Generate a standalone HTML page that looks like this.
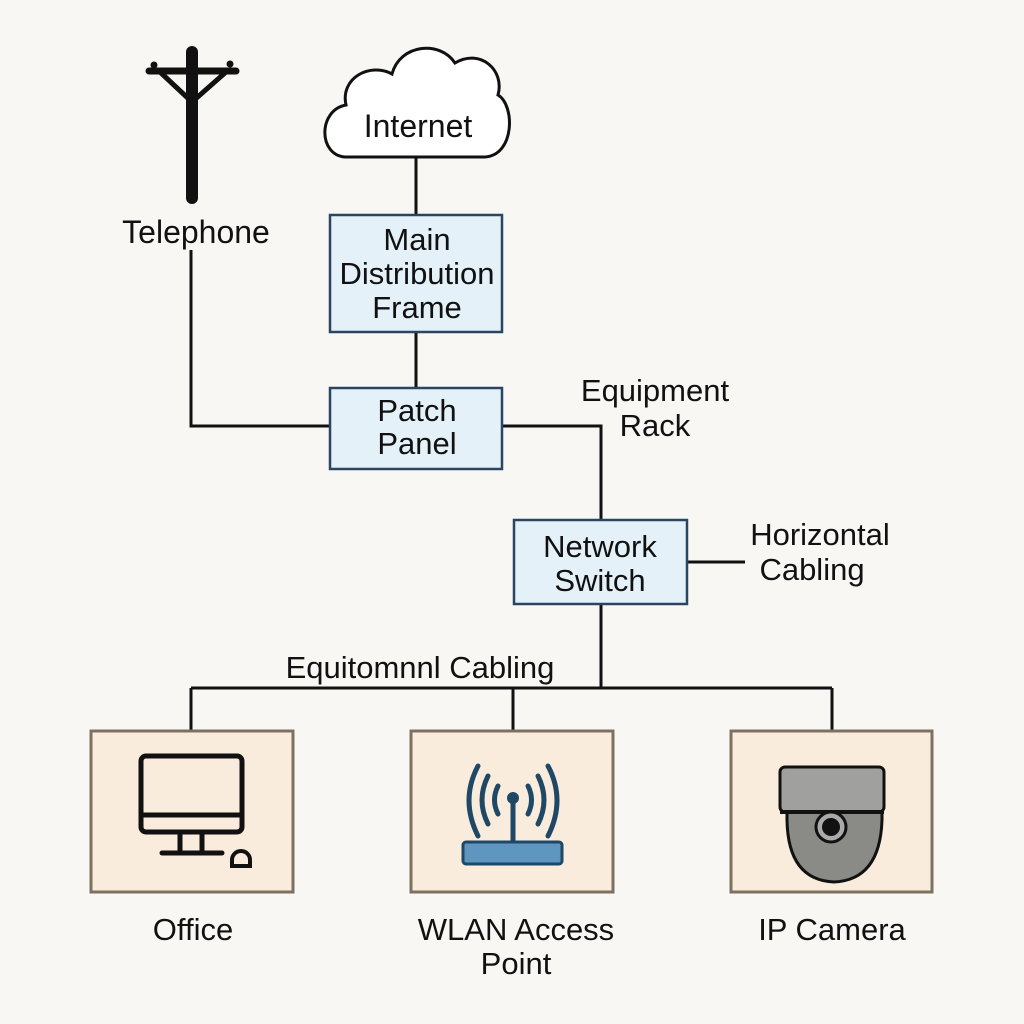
<!DOCTYPE html>
<html><head><style>
body{margin:0;background:#f8f7f4;}
svg{display:block;font-family:"Liberation Sans",sans-serif;}
</style></head><body>
<svg width="1024" height="1024" viewBox="0 0 1024 1024">
<rect width="1024" height="1024" fill="#f8f7f4"/>
<g stroke="#111" stroke-width="3" fill="none">
<path d="M416 156V215M416 332V388M191 250V426H330M502 426H601V520M687 562H745M601 604V688M191 688H832M191 688V730M513 688V730M832 688V730"/>
</g>
<!-- pole -->
<g stroke="#111" stroke-linecap="round">
<line x1="192" y1="52" x2="192" y2="198" stroke-width="12"/>
<line x1="149" y1="71" x2="236" y2="71" stroke-width="7"/>
<line x1="160" y1="72" x2="192" y2="102" stroke-width="5"/>
<line x1="226" y1="72" x2="192" y2="102" stroke-width="5"/>
<circle cx="154" cy="65" r="3" fill="#111"/>
<circle cx="230" cy="64" r="3" fill="#111"/>
</g>
<text x="196" y="243" font-size="32" text-anchor="middle" fill="#111">Telephone</text>
<!-- cloud -->
<path d="M345 157 C318 155 318 110 346 105 C340 78 370 62 392 74 C400 44 440 40 455 63 C480 48 505 70 498 95 C515 105 515 155 485 157 Z" fill="#fff" stroke="#111" stroke-width="3"/>
<text x="418" y="137" font-size="32" text-anchor="middle" fill="#111">Internet</text>
<g fill="#e4f1f9" stroke="#2a4561" stroke-width="2.5">
<rect x="330" y="215" width="172" height="117"/>
<rect x="330" y="388" width="172" height="81"/>
<rect x="514" y="520" width="173" height="84"/>
</g>
<g font-size="31" text-anchor="middle" fill="#111">
<text x="417" y="250">Main</text>
<text x="417" y="284">Distribution</text>
<text x="417" y="318">Frame</text>
<text x="417" y="421">Patch</text>
<text x="417" y="454">Panel</text>
<text x="600" y="557">Network</text>
<text x="600" y="591">Switch</text>
<text x="655" y="401">Equipment</text>
<text x="655" y="436">Rack</text>
<text x="820" y="545">Horizontal</text>
<text x="812" y="580">Cabling</text>
<text x="420" y="678">Equitomnnl Cabling</text>
<text x="193" y="940">Office</text>
<text x="516" y="940">WLAN Access</text>
<text x="516" y="974">Point</text>
<text x="832" y="940">IP Camera</text>
</g>
<g fill="#f9ecdc" stroke="#7d7260" stroke-width="3">
<rect x="91" y="731" width="202" height="161"/>
<rect x="411" y="731" width="202" height="161"/>
<rect x="731" y="731" width="201" height="161"/>
</g>
<!-- monitor -->
<g stroke="#111" stroke-width="5" fill="none">
<rect x="141" y="756" width="101" height="76" rx="5"/>
<line x1="141" y1="815" x2="242" y2="815"/>
<line x1="180" y1="832" x2="180" y2="853"/>
<line x1="202" y1="832" x2="202" y2="853"/>
<line x1="162" y1="853" x2="222" y2="853" stroke-linecap="round"/>
<path d="M232 866 V860 A9 9 0 0 1 250 860 V866 Z" stroke-width="4"/>
</g>
<!-- wifi -->
<g stroke="#1f4766" stroke-width="5" fill="none" stroke-linecap="round">
<line x1="513" y1="800" x2="513" y2="842"/>
<path d="M498 786 Q491 800 498 814 M528 786 Q535 800 528 814"/>
<path d="M488 776 Q476 800 488 824 M538 776 Q550 800 538 824"/>
<path d="M478 766 Q460 800 478 836 M548 766 Q566 800 548 836"/>
</g>
<circle cx="513" cy="798" r="6" fill="#1f4766"/>
<rect x="463" y="842" width="99" height="22" rx="3" fill="#5f96bf" stroke="#1f4766" stroke-width="3"/>
<!-- camera -->
<path d="M787 810 H882 V820 Q880 880 834 882 Q788 880 787 820 Z" fill="#8a8a86" stroke="#111" stroke-width="3"/>
<rect x="780" y="767" width="104" height="45" rx="5" fill="#a0a09e" stroke="#111" stroke-width="3"/>
<line x1="780" y1="812" x2="884" y2="812" stroke="#111" stroke-width="4"/>
<circle cx="831" cy="827" r="15" fill="#aaa" stroke="#111" stroke-width="3"/>
<circle cx="831" cy="827" r="9" fill="#111"/>
</svg>
</body></html>
